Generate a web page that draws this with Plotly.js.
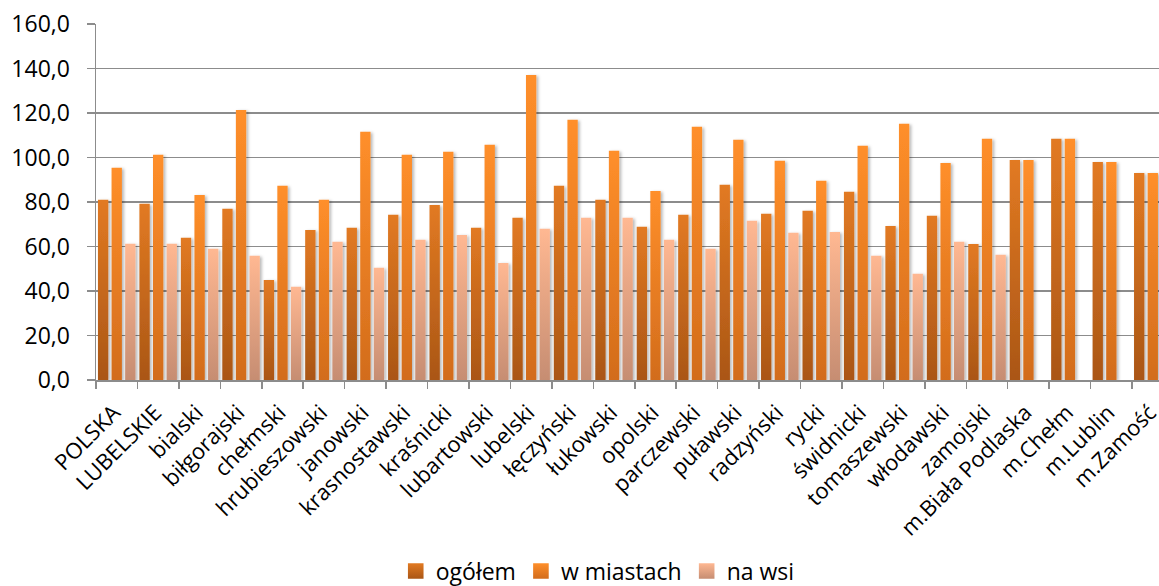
<!DOCTYPE html>
<html>
<head>
<meta charset="utf-8">
<script src="https://cdn.plot.ly/plotly-3.0.1.min.js"></script>
<style>
html,body{margin:0;padding:0;background:#fff;}
#chart{width:1159px;height:586px;}
</style>
</head>
<body>
<div id="chart"></div>
<script>
const categories = ["POLSKA","LUBELSKIE","bialski","biłgorajski","chełmski","hrubieszowski","janowski","krasnostawski","kraśnicki","lubartowski","lubelski","łęczyński","łukowski","opolski","parczewski","puławski","radzyński","rycki","świdnicki","tomaszewski","włodawski","zamojski","m.Biała Podlaska","m.Chełm","m.Lublin","m.Zamość"];
const seriesNames = ["ogółem","w miastach","na wsi"];
const ogolem = [81.0, 79.2, 63.9, 77.0, 45.0, 67.4, 68.4, 74.3, 78.7, 68.4, 72.9, 87.3, 81.0, 68.9, 74.3, 87.7, 74.7, 76.1, 84.6, 69.2, 73.8, 61.1, 98.9, 108.4, 98.0, 93.0];
const wMiastach = [95.4, 101.2, 83.1, 121.3, 87.3, 81.0, 111.6, 101.2, 102.6, 105.7, 137.1, 117.0, 103.0, 85.0, 113.8, 108.0, 98.5, 89.5, 105.3, 115.2, 97.5, 108.4, 98.9, 108.4, 98.0, 93.0];
const naWsi = [61.2, 61.2, 59.0, 55.8, 41.9, 62.1, 50.5, 63.0, 65.2, 52.6, 68.0, 72.9, 72.9, 63.0, 59.0, 71.6, 66.2, 66.5, 55.8, 47.7, 62.1, 56.3, null, null, null, null];

const baseColors = ["#C96A1E", "#F07E22", "#E8A17F"];
const gradStops = [
  ["#E27A22", "#AA5616"],
  ["#FF8F2A", "#D26C1C"],
  ["#FFB892", "#C68D72"]
];
const values = [ogolem, wMiastach, naWsi];

const data = values.map((v, i) => ({
  type: "bar",
  name: seriesNames[i],
  x: categories,
  y: v,
  marker: {color: baseColors[i], line: {width: 0}},
  hoverinfo: "skip"
}));

const FONT = "Open Sans, Noto Sans, sans-serif";
const GRID = "#8c8c8c";

const layout = {
  width: 1159,
  height: 586,
  margin: {l: 96, r: 0, t: 24, b: 206, pad: 0},
  paper_bgcolor: "#ffffff",
  plot_bgcolor: "#ffffff",
  separators: ", ",
  barmode: "group",
  bargap: 0.016,
  bargroupgap: 0.24,
  showlegend: true,
  legend: {
    orientation: "h",
    x: 0.472, xanchor: "center",
    y: -0.50, yanchor: "middle",
    font: {family: FONT, size: 23, color: "#000"},
    bgcolor: "rgba(0,0,0,0)"
  },
  xaxis: {
    type: "category",
    range: [-0.5, 25.15],
    tickangle: -45,
    tickson: "boundaries",
    ticks: "outside",
    ticklen: 7,
    tickwidth: 1.5,
    tickcolor: GRID,
    ticklabelstandoff: 9,
    ticklabelshift: -3,
    showline: true,
    linecolor: GRID,
    linewidth: 2,
    showgrid: false,
    zeroline: false,
    automargin: false,
    tickfont: {family: FONT, size: 22, color: "#000"}
  },
  yaxis: {
    range: [0, 160],
    dtick: 20,
    tick0: 0,
    tickformat: ".1f",
    ticks: "outside",
    ticklen: 8,
    tickwidth: 1.5,
    tickcolor: GRID,
    ticklabelstandoff: 12,
    showline: true,
    linecolor: GRID,
    linewidth: 1.5,
    showgrid: true,
    gridcolor: GRID,
    gridwidth: 1.5,
    zeroline: false,
    automargin: false,
    tickfont: {family: FONT, size: 23, color: "#000"}
  }
};

Plotly.newPlot("chart", data, layout, {staticPlot: true, displayModeBar: false}).then(gd => {
  const ns = "http://www.w3.org/2000/svg";
  const svg = gd.querySelector(".main-svg");
  let defs = svg.querySelector("defs");
  if (!defs) { defs = document.createElementNS(ns, "defs"); svg.insertBefore(defs, svg.firstChild); }
  gradStops.forEach((st, i) => {
    const lg = document.createElementNS(ns, "linearGradient");
    lg.setAttribute("id", "barGrad" + i);
    lg.setAttribute("x1", "0"); lg.setAttribute("y1", "0");
    lg.setAttribute("x2", "0"); lg.setAttribute("y2", "1");
    [[0, st[0]], [1, st[1]]].forEach(([o, c]) => {
      const s = document.createElementNS(ns, "stop");
      s.setAttribute("offset", o);
      s.setAttribute("stop-color", c);
      lg.appendChild(s);
    });
    defs.appendChild(lg);
  });
  const f = document.createElementNS(ns, "filter");
  f.setAttribute("id", "barShadow");
  f.setAttribute("x", "-50%"); f.setAttribute("y", "-10%");
  f.setAttribute("width", "200%"); f.setAttribute("height", "120%");
  const ds = document.createElementNS(ns, "feDropShadow");
  ds.setAttribute("dx", "2"); ds.setAttribute("dy", "1");
  ds.setAttribute("stdDeviation", "1.6");
  ds.setAttribute("flood-color", "#000");
  ds.setAttribute("flood-opacity", "0.28");
  f.appendChild(ds);
  defs.appendChild(f);

  gd.querySelectorAll(".barlayer .trace").forEach((tr, i) => {
    tr.querySelectorAll("path").forEach(p => {
      p.style.fill = "url(#barGrad" + i + ")";
      p.setAttribute("filter", "url(#barShadow)");
    });
  });
  gd.querySelectorAll(".legend .traces").forEach((tr, i) => {
    tr.querySelectorAll(".legendpoints path").forEach(p => {
      p.style.fill = "url(#barGrad" + i + ")";
      const t = p.getAttribute("transform") || "";
      p.setAttribute("transform", t + " scale(1.3)");
    });
  });
  // nudge legend down to its reference position without forcing a margin push
  const leg = gd.querySelector(".legend");
  if (leg) {
    const tf = leg.getAttribute("transform") || "";
    const m = tf.match(/translate\(\s*([-\d.]+)[ ,]+([-\d.]+)\s*\)/);
    if (m) leg.setAttribute("transform", "translate(" + m[1] + "," + (parseFloat(m[2]) + 13) + ")");
  }
});
</script>
</body>
</html>
